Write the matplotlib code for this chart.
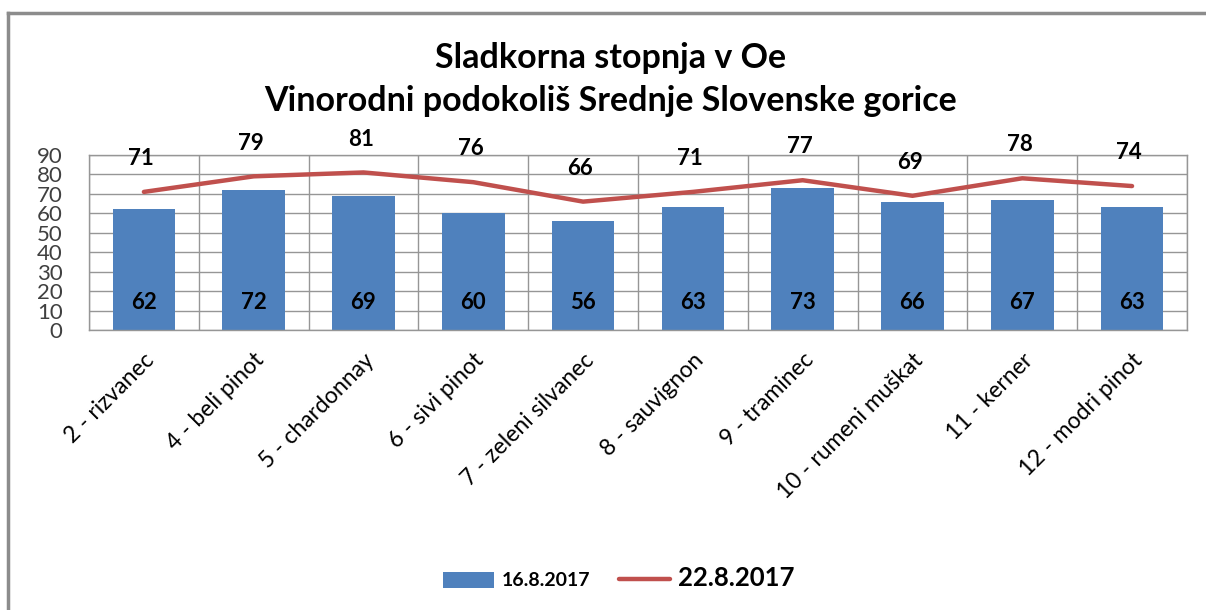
import numpy as np
import matplotlib
matplotlib.use('Agg')
import matplotlib.pyplot as plt
from matplotlib.lines import Line2D

plt.rcParams['font.family'] = ['Lato', 'DejaVu Sans']

# data
sorte = ['2 - rizvanec', '4 - beli pinot', '5 - chardonnay', '6 - sivi pinot',
         '7 - zeleni silvanec', '8 - sauvignon', '9 - traminec',
         '10 - rumeni muškat', '11 - kerner', '12 - modri pinot']
oe_16avg = [62, 72, 69, 60, 56, 63, 73, 66, 67, 63]
oe_22avg = [71, 79, 81, 76, 66, 71, 77, 69, 78, 74]
yticks = [0, 10, 20, 30, 40, 50, 60, 70, 80, 90]

blue = '#4F81BD'
red = '#C0504D'
grid_c = '#969696'

fig = plt.figure(figsize=(12.06, 6.10), dpi=100)
ax = fig.add_axes([0.0738, 0.459, 0.9104, 0.287])

x = np.arange(len(sorte))
bars = ax.bar(x, oe_16avg, width=0.57, color=blue, zorder=2, label='16.8.2017')
line, = ax.plot(x, oe_22avg, color=red, lw=3.2, zorder=3, solid_capstyle='round',
                label='22.8.2017')

for xi, v in zip(x, oe_16avg):
    ax.text(xi, 14, str(v), ha='center', va='center', fontsize=16,
            fontweight='bold', color='black', zorder=4)
for xi, v in zip(x, oe_22avg):
    ax.annotate(str(v), (xi, v), xytext=(-2, 24), textcoords='offset points',
                ha='center', va='center', fontsize=16, fontweight='bold',
                color='black', zorder=4, annotation_clip=False)

ax.set_xlim(-0.5, len(sorte) - 0.5)
ax.set_ylim(0, 90)
ax.set_yticks(yticks)
ax.set_yticklabels([str(t) for t in yticks], fontsize=16, color='#404040')
ax.tick_params(axis='y', length=0, pad=19)

ax.set_xticks(x)
ax.set_xticklabels(sorte, rotation=45, ha='right', va='top',
                   rotation_mode='anchor', fontsize=16.5, color='black')
ax.tick_params(axis='x', length=0, pad=14)

# grid: horizontal at ticks, vertical at category boundaries
for t in yticks:
    ax.axhline(t, color=grid_c, lw=1, zorder=1)
for b in np.arange(-0.5, len(sorte), 1.0):
    ax.axvline(b, color=grid_c, lw=1, zorder=1)
for s in ax.spines.values():
    s.set_color(grid_c)
    s.set_linewidth(1)

fig.text(0.506, 0.905, 'Sladkorna stopnja v Oe', ha='center', va='center',
         fontsize=24.5, fontweight='bold')
fig.text(0.506, 0.835, 'Vinorodni podokoliš Srednje Slovenske gorice',
         ha='center', va='center', fontsize=24.5, fontweight='bold')

leg = ax.legend([bars, line], ['16.8.2017', '22.8.2017'], loc='center',
                bbox_to_anchor=(0.513, 0.052),
                bbox_transform=fig.transFigure, ncol=2, frameon=False,
                handlelength=2.6, handleheight=0.9, handletextpad=0.4,
                columnspacing=1.5,
                prop={'weight': 'bold', 'size': 14})
txts = leg.get_texts()
txts[1].set_fontsize(18.5)

# outer chart frame (top and left edges visible)
fig.add_artist(Line2D([0.007, 1.0], [0.979, 0.979], transform=fig.transFigure,
                      color='#8C8C8C', lw=2.5))
fig.add_artist(Line2D([0.007, 0.007], [0.0, 0.979], transform=fig.transFigure,
                      color='#8C8C8C', lw=2.5))

fig.savefig('out.png', dpi=100, facecolor='white')
